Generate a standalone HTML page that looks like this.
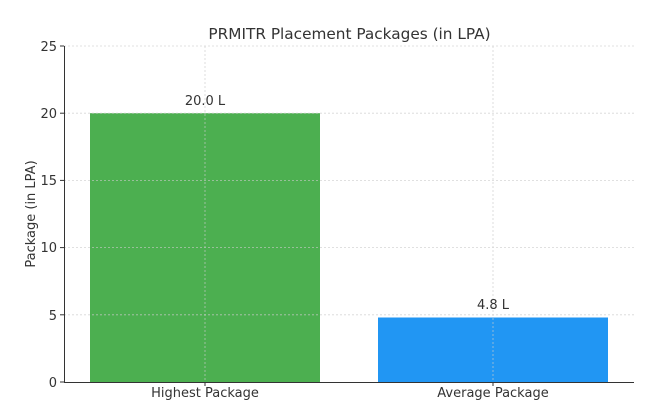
<!DOCTYPE html><html><head><style>body{margin:0;background:#fff}</style></head><body>
<svg width="662" height="413" xmlns="http://www.w3.org/2000/svg" font-family="DejaVu Sans, sans-serif" fill="#333">
<rect x="90" y="113.2" width="230" height="268.8" fill="#4CAF50"/>
<rect x="378" y="317.5" width="230" height="64.5" fill="#2196F3"/>
<g stroke="#ccc" stroke-width="0.8" stroke-dasharray="2,2" opacity="0.8">
<line x1="64" x2="634" y1="46" y2="46"/><line x1="64" x2="634" y1="113.2" y2="113.2"/><line x1="64" x2="634" y1="180.4" y2="180.4"/><line x1="64" x2="634" y1="247.6" y2="247.6"/><line x1="64" x2="634" y1="314.8" y2="314.8"/>
<line x1="205" x2="205" y1="46" y2="382"/><line x1="493" x2="493" y1="46" y2="382"/>
</g>
<g stroke="#333" stroke-width="1">
<line x1="64.5" x2="64.5" y1="46" y2="382"/><line x1="64" x2="634" y1="382.5" y2="382.5"/>
<line x1="60" x2="64" y1="46" y2="46"/><line x1="60" x2="64" y1="113.2" y2="113.2"/><line x1="60" x2="64" y1="180.4" y2="180.4"/><line x1="60" x2="64" y1="247.6" y2="247.6"/><line x1="60" x2="64" y1="314.8" y2="314.8"/><line x1="60" x2="64" y1="382" y2="382"/>
<line x1="205" x2="205" y1="382" y2="386"/><line x1="493" x2="493" y1="382" y2="386"/>
</g>
<g font-size="13" text-anchor="end">
<text x="57" y="51">25</text><text x="57" y="118">20</text><text x="57" y="185">15</text><text x="57" y="252">10</text><text x="57" y="320">5</text><text x="57" y="387">0</text>
</g>
<g font-size="13" text-anchor="middle">
<text x="205" y="397">Highest Package</text><text x="493" y="397">Average Package</text>
<text x="205" y="105">20.0 L</text><text x="493" y="309">4.8 L</text>
<text x="349.5" y="39" font-size="15.3">PRMITR Placement Packages (in LPA)</text>
<text transform="translate(35,214) rotate(-90)">Package (in LPA)</text>
</g>
</svg></body></html>
